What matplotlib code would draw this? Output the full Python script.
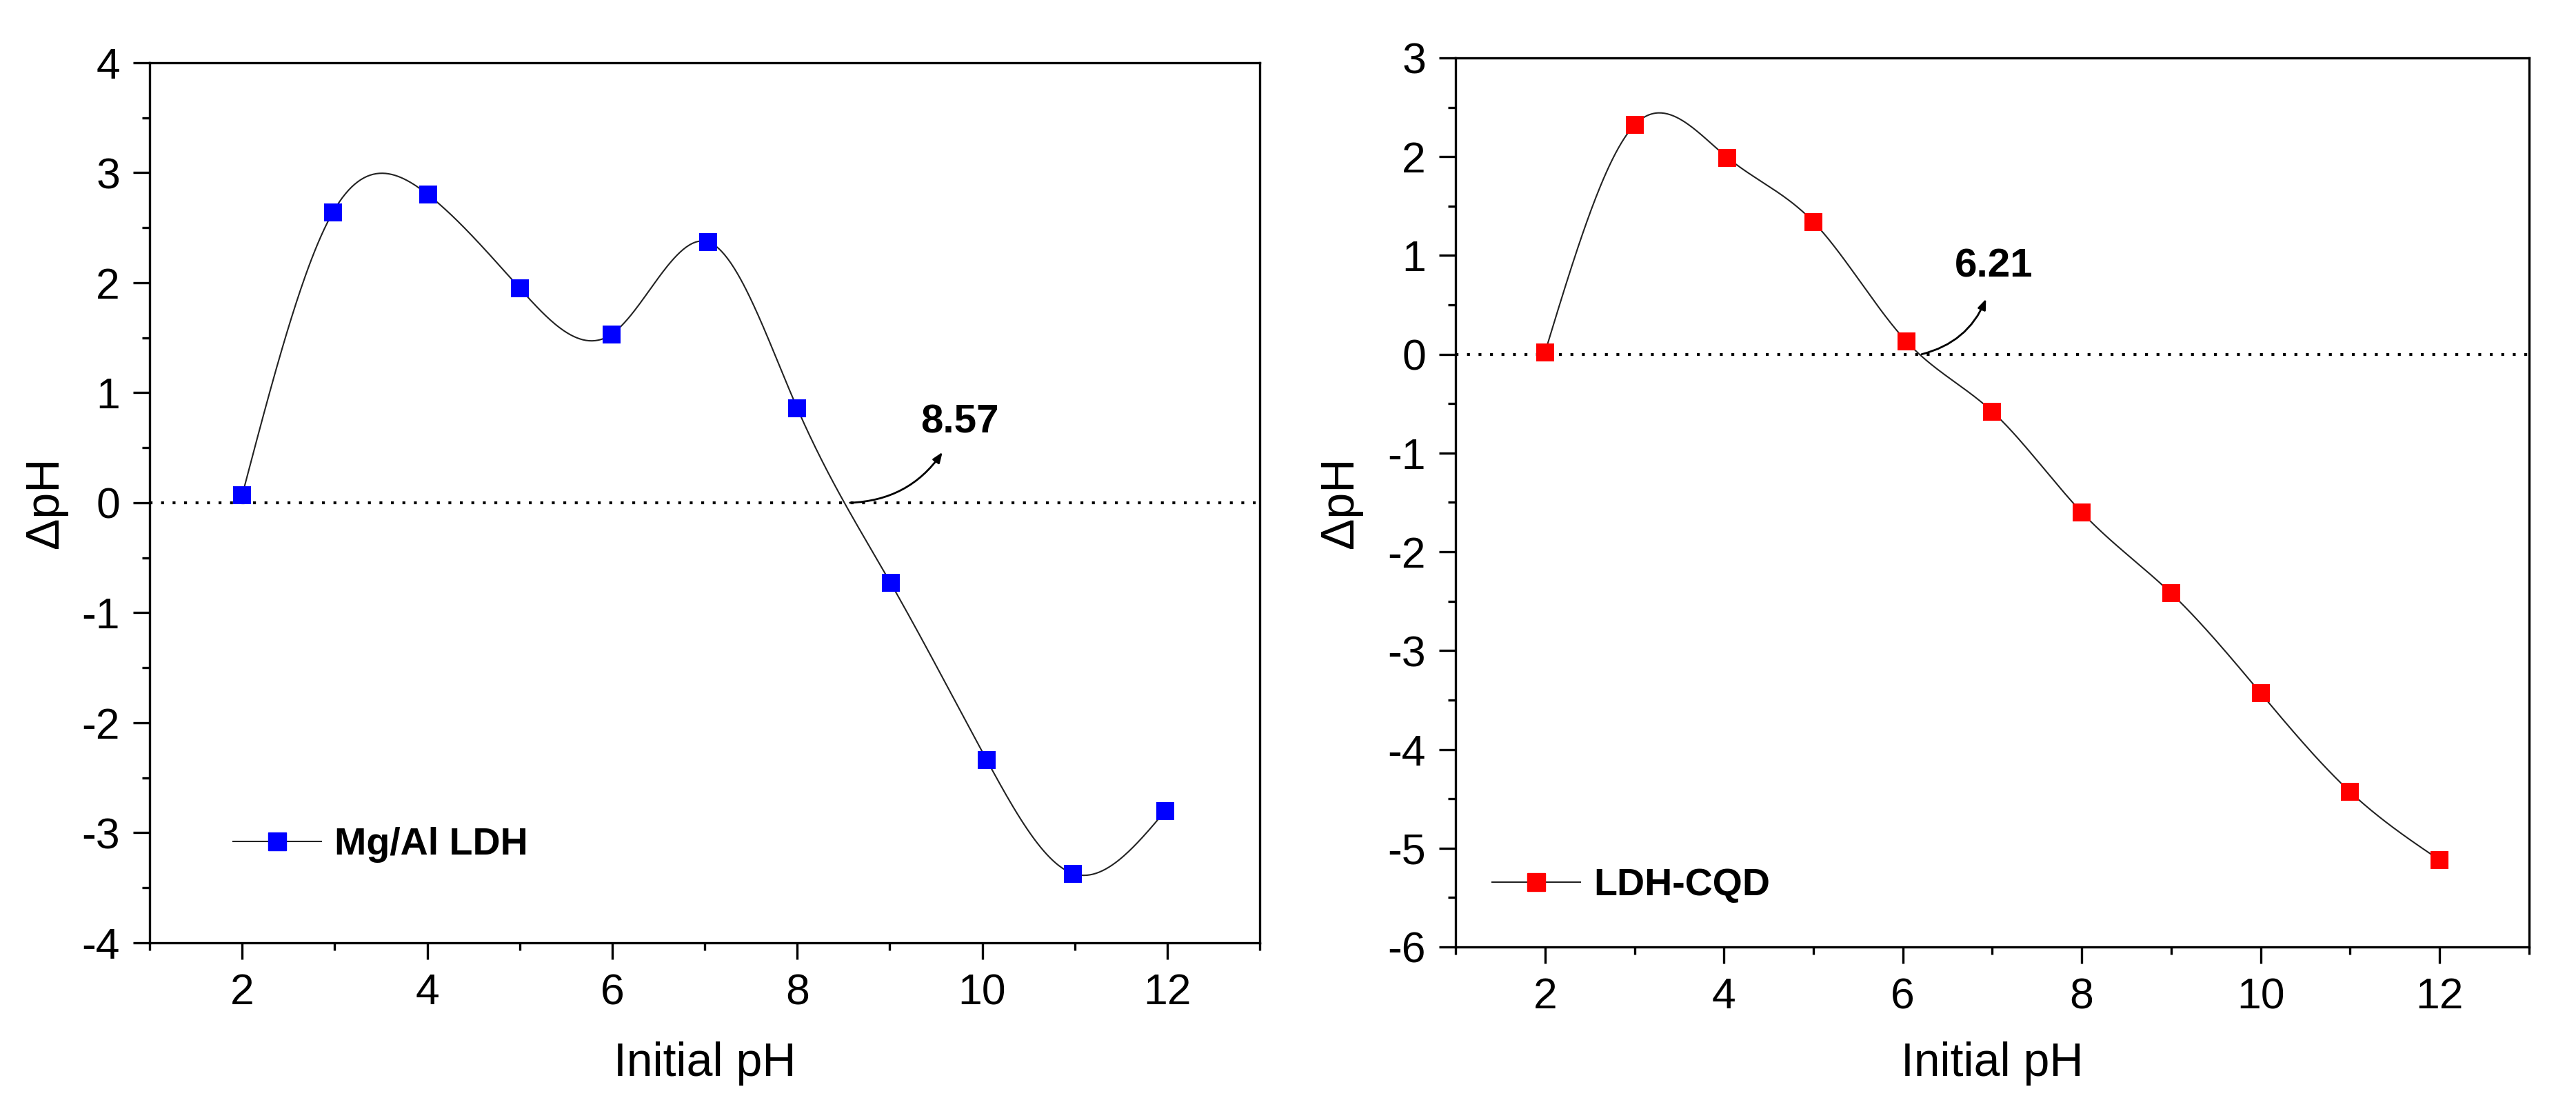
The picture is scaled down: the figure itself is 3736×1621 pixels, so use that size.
import numpy as np
import matplotlib
matplotlib.use('Agg')
import matplotlib.pyplot as plt

# Data:
x_ldh = [2, 2.98, 4.01, 5, 5.99, 7.04, 8, 9.01, 10.05, 10.98, 11.98]
y_ldh = [0.07, 2.64, 2.80, 1.95, 1.53, 2.37, 0.86, -0.73, -2.34, -3.37, -2.80]
x_cqd = [2, 3, 4.04, 5, 6.04, 7, 8, 9, 10, 11, 12]
y_cqd = [0.02, 2.32, 1.99, 1.34, 0.13, -0.58, -1.60, -2.42, -3.43, -4.43, -5.12]
pzc_ldh = 8.57
pzc_cqd = 6.21

plt.rcParams['font.family'] = ['Liberation Sans', 'DejaVu Sans']
plt.rcParams['axes.unicode_minus'] = False


def naturalSpline(xs, ys, n=600):
    # Natural cubic spline through the points (like Origin's spline connector):
    xs = np.asarray(xs, float)
    ys = np.asarray(ys, float)
    k = len(xs)
    h = np.diff(xs)
    A = np.zeros((k, k))
    b = np.zeros(k)
    A[0, 0] = A[-1, -1] = 1
    for i in range(1, k - 1):
        A[i, i - 1] = h[i - 1]
        A[i, i] = 2 * (h[i - 1] + h[i])
        A[i, i + 1] = h[i]
        b[i] = 6 * ((ys[i + 1] - ys[i]) / h[i] - (ys[i] - ys[i - 1]) / h[i - 1])
    M = np.linalg.solve(A, b)
    xx = np.linspace(xs[0], xs[-1], n)
    idx = np.clip(np.searchsorted(xs, xx) - 1, 0, k - 2)
    x0, x1 = xs[idx], xs[idx + 1]
    hh = x1 - x0
    t0, t1 = x1 - xx, xx - x0
    yy = (M[idx] * t0 ** 3 + M[idx + 1] * t1 ** 3) / (6 * hh) \
        + (ys[idx] / hh - M[idx] * hh / 6) * t0 \
        + (ys[idx + 1] / hh - M[idx + 1] * hh / 6) * t1
    return xx, yy


def drawPanel(ax, xs, ys, color, label, ylim, pzc, arrowTip, textPos, legAnchor, ylabelX, xlabelY):

    # Smooth connector + square markers:
    xx, yy = naturalSpline(xs, ys)
    ax.plot(xx, yy, color='#222222', lw=1.5, zorder=2)
    ax.plot(xs, ys, 's', color=color, ms=19, mec=color, mew=0, zorder=3)
    # Legend handle only:
    ax.plot([], [], '-s', color='#222222', lw=1.5, mfc=color, mec=color, ms=19, label=label)

    ax.axhline(0, color='black', lw=3, ls=(0, (1, 3)), zorder=1)

    # Curved arrow from the zero crossing:
    ax.annotate('', xy=arrowTip, xytext=(pzc, 0),
                arrowprops=dict(arrowstyle='-|>,head_length=0.9,head_width=0.35', color='black',
                                lw=2, connectionstyle='arc3,rad=0.25', shrinkA=0, shrinkB=0))
    ax.text(textPos[0], textPos[1], f'{pzc:.2f}', fontsize=42, fontweight='bold',
            ha='center', va='center')

    ax.set_xlim(1, 13)
    ax.set_ylim(*ylim)
    ax.set_xticks(np.arange(2, 13, 2))
    ax.set_xticks(np.arange(1, 14, 2), minor=True)
    ax.set_yticks(np.arange(ylim[0], ylim[1] + 1, 1))
    ax.set_yticks(np.arange(ylim[0], ylim[1] + 0.1, 0.5), minor=True)

    for sp in ax.spines.values():
        sp.set_linewidth(2.4)
    ax.tick_params(which='major', direction='out', length=17, width=2.4, labelsize=45, pad=14)
    ax.tick_params(which='minor', direction='out', length=8, width=2.4)

    ax.set_xlabel('Initial pH', fontsize=49)
    ax.set_ylabel('ΔpH', fontsize=49)
    ax.xaxis.set_label_coords(0.5, xlabelY)
    ax.xaxis.label.set_va('center')
    ax.yaxis.set_label_coords(ylabelX, 0.5)
    ax.yaxis.label.set_va('center')

    ax.legend(loc='center left', bbox_to_anchor=legAnchor, frameon=False, fontsize=40,
              prop={'weight': 'bold', 'size': 40}, handlelength=2.3, handletextpad=0.35,
              borderpad=0, borderaxespad=0, numpoints=1)


fig = plt.figure(figsize=(37.37, 16.21), dpi=100)
ax1 = fig.add_axes([0.0581, 0.1567, 0.4308, 0.7872])
ax2 = fig.add_axes([0.5649, 0.1530, 0.4166, 0.7952])

drawPanel(ax1, x_ldh, y_ldh, '#0000ff', 'Mg/Al LDH', (-4, 4), pzc_ldh,
          (9.57, 0.46), (9.76, 0.73), (0.075, 0.111), -0.094, -0.137)
drawPanel(ax2, x_cqd, y_cqd, '#ff0000', 'LDH-CQD', (-6, 3), pzc_cqd,
          (6.93, 0.56), (7.02, 0.89), (0.034, 0.069), -0.107, -0.131)

fig.savefig('out.png', dpi=100)
